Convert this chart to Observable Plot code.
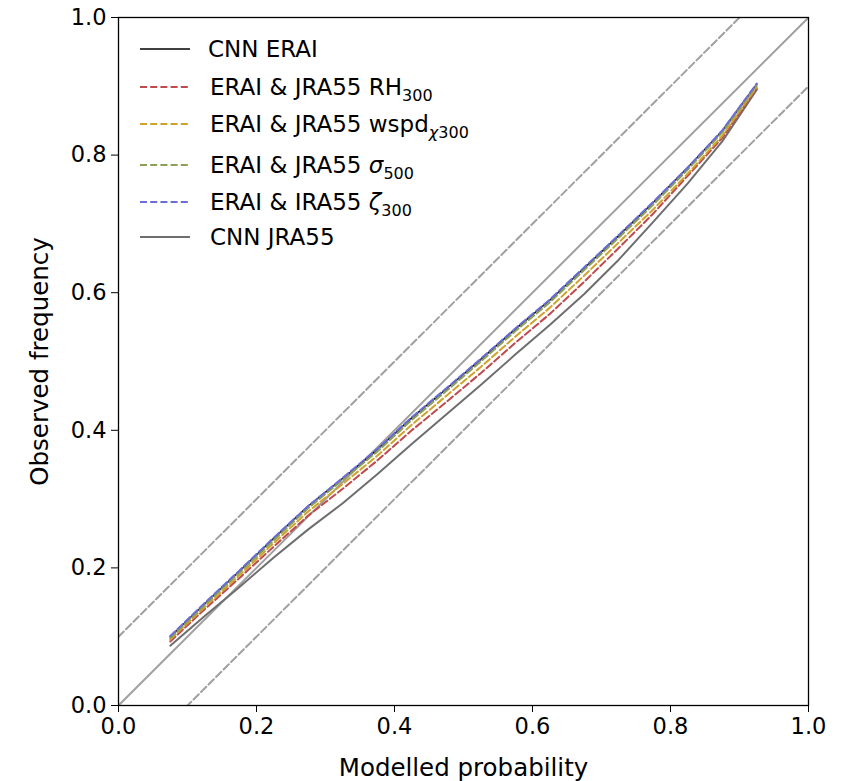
<!DOCTYPE html>
<html>
<head>
<meta charset="utf-8">
<script src="https://cdn.jsdelivr.net/npm/d3@7"></script>
<script src="https://cdn.jsdelivr.net/npm/@observablehq/plot@0.6"></script>
<style>
  html, body { margin: 0; padding: 0; background: #fff; }
  #wrap { position: relative; width: 841px; height: 781px; font-family: "DejaVu Sans", sans-serif; }
  .leg { position: absolute; left: 140px; display: flex; align-items: center; font-size: 23px; color: #000; white-space: nowrap; }
  .leg sub { font-size: 16px; vertical-align: -6px; line-height: 0; }
  .leg i { font-family: "DejaVu Sans", sans-serif; }
</style>
</head>
<body>
<div id="wrap"></div>
<script>
// Bin centres of modelled probability
const probBins = [0.075,0.125,0.175,0.225,0.275,0.325,0.375,0.425,0.475,0.525,0.575,0.625,0.675,0.725,0.775,0.825,0.875,0.925];
// Observed frequency per series
const cnnERAI   = [0.100,0.148,0.195,0.243,0.290,0.330,0.372,0.418,0.460,0.503,0.547,0.589,0.636,0.683,0.731,0.782,0.835,0.903];
const rh300     = [0.093,0.140,0.185,0.231,0.276,0.315,0.356,0.400,0.441,0.483,0.527,0.569,0.616,0.665,0.715,0.770,0.825,0.897];
const wspd300   = [0.096,0.143,0.189,0.236,0.282,0.322,0.363,0.408,0.450,0.492,0.536,0.578,0.625,0.673,0.721,0.773,0.828,0.899];
const sigma500  = [0.098,0.146,0.193,0.240,0.287,0.328,0.369,0.415,0.457,0.500,0.544,0.586,0.633,0.680,0.728,0.779,0.833,0.902];
const zeta300   = [0.101,0.149,0.196,0.244,0.290,0.331,0.373,0.419,0.461,0.504,0.548,0.590,0.637,0.684,0.732,0.782,0.836,0.904];
const cnnJRA55  = [0.087,0.130,0.172,0.215,0.256,0.294,0.336,0.380,0.423,0.466,0.510,0.553,0.598,0.648,0.703,0.759,0.820,0.895];
// Reference lines: perfect reliability and +/- 0.1 band
const refX = [0, 1];
const bandOffsets = [-0.1, 0.1];
const tickValues = [0, 0.2, 0.4, 0.6, 0.8, 1.0];

const series = [
  {key: "CNN ERAI", vals: cnnERAI, stroke: "#000000", width: 1.5, dash: null},
  {key: "RH300", vals: rh300, stroke: "#c0494e", width: 2, dash: "7,3.2"},
  {key: "wspd300", vals: wspd300, stroke: "#cfa22c", width: 2, dash: "7,3.2"},
  {key: "sigma500", vals: sigma500, stroke: "#8ca055", width: 2, dash: "7,3.2"},
  {key: "zeta300", vals: zeta300, stroke: "#6b6ed8", width: 2, dash: "7,3.2"}
];
const jraTable = probBins.map((p, i) => ({p, o: cnnJRA55[i]}));

const refTable = refX.map(x => ({x, y: x}));
const bandTables = bandOffsets.map(off => refX.map(x => ({x, y: x + off})));

const marks = [
  Plot.line(refTable, {x: "x", y: "y", stroke: "#a0a0a0", strokeWidth: 2, clip: true}),
  ...bandTables.map(t => Plot.line(t, {x: "x", y: "y", stroke: "#a0a0a0", strokeWidth: 2, strokeDasharray: "7.4,3.2", clip: true})),
  Plot.line(jraTable, {x: "p", y: "o", stroke: "#6e6e6e", strokeWidth: 2}),
  ...series.map(s => Plot.line(probBins.map((p, i) => ({p, o: s.vals[i]})), {
    x: "p", y: "o", stroke: s.stroke, strokeWidth: s.width, strokeDasharray: s.dash
  })),
  Plot.frame({stroke: "#000", strokeWidth: 1.3}),
  Plot.axisX({ticks: tickValues, tickFormat: d3.format(".1f"), tickSize: 7, tickPadding: 6, fontSize: 22.5,
    label: "Modelled probability", labelAnchor: "center", labelArrow: "none", labelOffset: 70}),
  Plot.axisY({ticks: tickValues, tickFormat: d3.format(".1f"), tickSize: 7, tickPadding: 5, fontSize: 22.5,
    label: "Observed frequency", labelAnchor: "center", labelArrow: "none", labelOffset: 88})
];

const chart = Plot.plot({
  width: 841, height: 781,
  marginLeft: 118, marginRight: 33, marginTop: 17, marginBottom: 76,
  x: {domain: [0, 1]},
  y: {domain: [0, 1]},
  style: {fontFamily: "DejaVu Sans, sans-serif", fontSize: "22.5px", color: "#000", background: "#fff", overflow: "visible"},
  marks
});
// enlarge axis titles slightly
d3.select(chart).selectAll('g[aria-label="x-axis label"], g[aria-label="y-axis label"]')
  .attr("font-size", null).style("font-size", "24.5px")
  .selectAll("text").attr("font-size", null).style("font-size", "24.5px");
const wrap = document.getElementById("wrap");
wrap.appendChild(chart);

// Legend (HTML overlay)
function sample(color, width, dash) {
  return `<svg width="50" height="10"><line x1="0" y1="5" x2="50" y2="5" stroke="${color}" stroke-width="${width}" ${dash ? `stroke-dasharray="${dash}"` : ""}/></svg>`;
}
const legendRows = [
  {top: 49, html: sample("#000", 1.5) + `<span>CNN ERAI</span>`, pad: 0},
  {top: 87, html: sample("#c0494e", 2, "7,3.2") + `<span>ERAI &amp; JRA55 RH<sub>300</sub></span>`, pad: 2},
  {top: 124, html: sample("#cfa22c", 2, "7,3.2") + `<span>ERAI &amp; JRA55 wspd<sub><i>χ</i>300</sub></span>`, pad: 2},
  {top: 165, html: sample("#8ca055", 2, "7,3.2") + `<span>ERAI &amp; JRA55 <i>σ</i><sub>500</sub></span>`, pad: 2},
  {top: 202, html: sample("#6b6ed8", 2, "7,3.2") + `<span>ERAI &amp; IRA55 <i>ζ</i><sub>300</sub></span>`, pad: 2},
  {top: 237, html: sample("#6e6e6e", 2) + `<span>CNN JRA55</span>`, pad: 2}
];
legendRows.forEach(r => {
  const d = document.createElement("div");
  d.className = "leg";
  d.style.top = (r.top - 14) + "px";
  d.style.height = "28px";
  d.innerHTML = r.html;
  d.querySelector("svg").style.marginRight = (18 + r.pad) + "px";
  wrap.appendChild(d);
});
</script>
</body>
</html>
